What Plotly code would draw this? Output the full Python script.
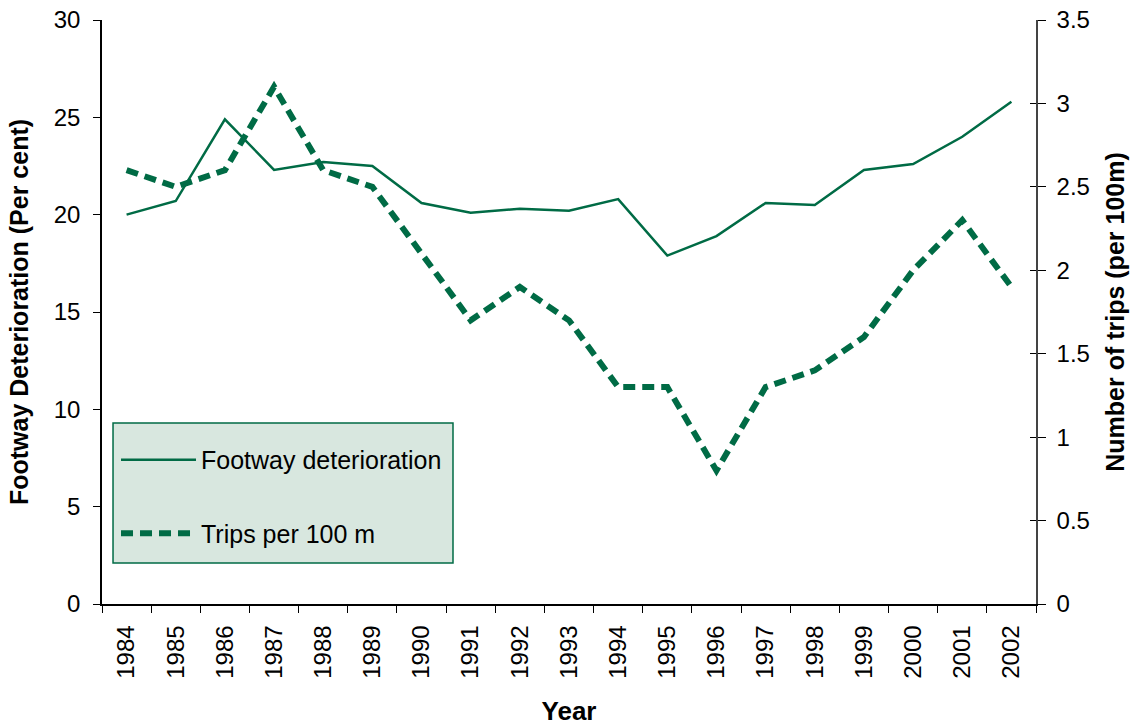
import plotly.graph_objects as go

years = [str(y) for y in range(1984, 2003)]
footway = [20.0, 20.7, 24.9, 22.3, 22.7, 22.5, 20.6, 20.1, 20.3, 20.2,
           20.8, 17.9, 18.9, 20.6, 20.5, 22.3, 22.6, 24.0, 25.8]
trips = [2.6, 2.5, 2.6, 3.1, 2.6, 2.5, 2.1, 1.7, 1.9, 1.7,
         1.3, 1.3, 0.8, 1.3, 1.4, 1.6, 2.0, 2.3, 1.9]

green = "#006B45"
font = "Liberation Sans, Arial, sans-serif"
tickfont = dict(family=font, size=24, color="black")
titlefont = dict(family=font, size=25, color="black")

fig = go.Figure()
fig.add_trace(go.Scatter(
    x=years, y=footway, name="Footway deterioration", mode="lines",
    line=dict(color=green, width=2.5), legendgroup="a"))
fig.add_trace(go.Scatter(
    x=years, y=trips, name="Trips per 100 m", mode="lines", yaxis="y2",
    line=dict(color=green, width=6, dash="12px,7px"), legendgroup="b"))
# invisible trace so the inner tick marks of the right axis are drawn
fig.add_trace(go.Scatter(x=years, y=trips, yaxis="y3", mode="lines",
                         line=dict(width=0), showlegend=False,
                         hoverinfo="skip"))

# legend box drawn as a shape so the padding can match
fig.add_shape(type="rect", xref="paper", yref="paper",
              x0=0.0118, x1=0.3758, y0=0.0702, y1=0.3099,
              fillcolor="#D8E7DF", line=dict(color=green, width=1.5),
              layer="below")

fig.update_layout(
    width=1135, height=726,
    margin=dict(l=102, r=99, t=20, b=122),
    plot_bgcolor="white", paper_bgcolor="white",
    font=dict(family=font, size=24, color="black"),
    showlegend=True,
    legend=dict(
        x=0.015, y=0.286, xanchor="left", yanchor="top",
        bgcolor="rgba(0,0,0,0)", borderwidth=0,
        font=dict(family=font, size=25, color="black"),
        tracegroupgap=38, traceorder="grouped", itemwidth=75),
    xaxis=dict(
        type="category", range=[-0.5, len(years) - 0.5],
        tickangle=-90, tickson="boundaries",
        ticks="outside", ticklen=7, tickcolor="black", tickfont=tickfont,
        ticklabelstandoff=10,
        showline=True, linecolor="black", linewidth=1.5, showgrid=False,
        automargin=False,
        title=dict(text="<b>Year</b>", font=dict(family=font, size=26),
                   standoff=26)),
    yaxis=dict(
        range=[0, 30], dtick=5, ticks="outside", ticklen=7,
        tickcolor="black", tickfont=tickfont, ticklabelstandoff=8,
        ticklabeloverflow="allow",
        showline=True, linecolor="black", linewidth=1.5, automargin=False,
        showgrid=False, zeroline=False,
        title=dict(text="<b>Footway Deterioration (Per cent)</b>",
                   font=titlefont, standoff=18)),
    yaxis2=dict(
        range=[0, 3.5], dtick=0.5, overlaying="y", side="right",
        ticks="outside", ticklen=8, tickcolor="black", tickfont=tickfont,
        ticklabelstandoff=6, ticklabeloverflow="allow",
        showline=True, linecolor="#444444", linewidth=1.5, automargin=False,
        showgrid=False, zeroline=False,
        title=dict(text="<b>Number of trips (per 100m)</b>",
                   font=titlefont, standoff=18)),
    yaxis3=dict(
        range=[0, 3.5], dtick=0.5, overlaying="y", side="right",
        ticks="inside", ticklen=6, tickcolor="black",
        showticklabels=False, showline=False, showgrid=False,
        zeroline=False, automargin=False),
)

# drop the default 8px page margin so the figure fills the window
fig.write_html("out.html", config={"displayModeBar": False},
               post_script="document.body.style.margin='0';")
